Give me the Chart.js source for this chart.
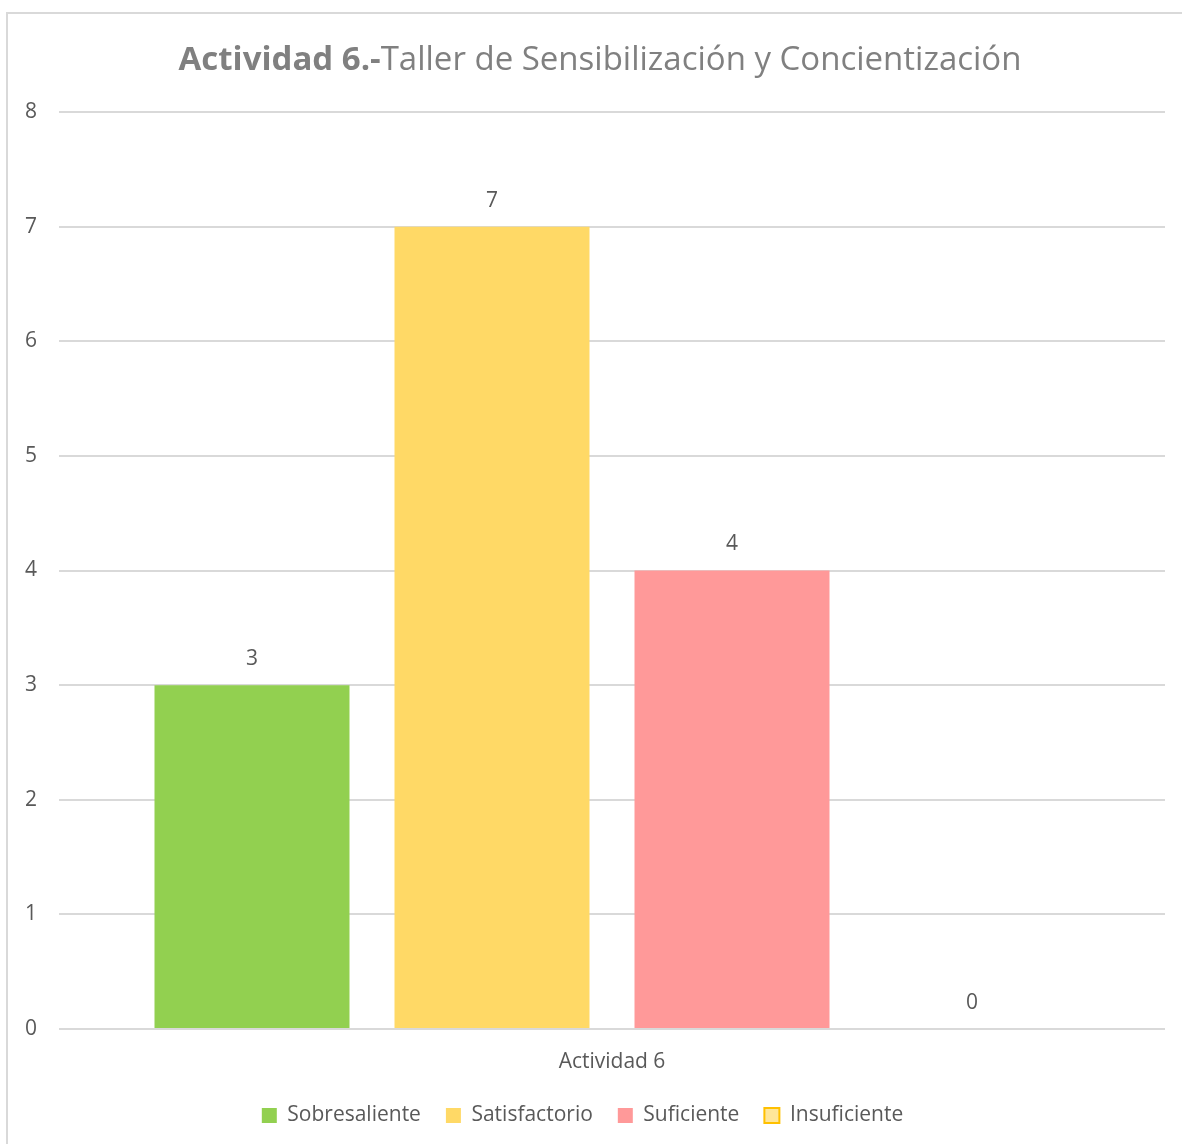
<!DOCTYPE html>
<html>
<head>
<meta charset="utf-8">
<script src="https://cdn.jsdelivr.net/npm/chart.js@4/dist/chart.umd.min.js"></script>
<style>
  html, body { margin: 0; padding: 0; background: #fff; }
  #wrap { width: 1182px; height: 1144px; position: relative; }
</style>
</head>
<body>
<div id="wrap"><canvas id="bar-chart"></canvas></div>
<script>
// chart data
const categories = ['Actividad 6'];
const seriesNames = ['Sobresaliente', 'Satisfactorio', 'Suficiente', 'Insuficiente'];
const seriesValues = [3, 7, 4, 0];
const yTicks = [0, 1, 2, 3, 4, 5, 6, 7, 8];
const titleBold = 'Actividad 6.-';
const titleRest = 'Taller de Sensibilización y Concientización';

const fillColors = ['#92D050', '#FFD966', '#FF9999', '#FFE699'];
const edgeColors = ['#92D050', '#FFD966', '#FF9999', '#FFC000'];
const FONT = "'Open Sans', 'Noto Sans', sans-serif";
const TITLE_SIZE = 33;
const TEXT_SIZE = 21;

// frame + title drawn by hand (title mixes bold and normal)
const framePlugin = {
  id: 'frame',
  beforeDraw: (chart) => {
    let ctx = chart.ctx;
    ctx.save();
    ctx.fillStyle = '#fff';
    ctx.fillRect(0, 0, chart.width, chart.height);
    ctx.strokeStyle = '#d9d9d9';
    ctx.lineWidth = 2;
    ctx.strokeRect(7, 13, chart.width + 20, chart.height + 20);
    ctx.restore();
  },
  afterDraw: (chart) => {
    let ctx = chart.ctx;
    ctx.save();
    ctx.fillStyle = '#808080';
    ctx.textBaseline = 'alphabetic';
    ctx.font = 'bold ' + TITLE_SIZE + 'px ' + FONT;
    let w1 = ctx.measureText(titleBold).width;
    ctx.font = TITLE_SIZE + 'px ' + FONT;
    let w2 = ctx.measureText(titleRest).width;
    let x = 600 - (w1 + w2) / 2;
    ctx.font = 'bold ' + TITLE_SIZE + 'px ' + FONT;
    ctx.fillText(titleBold, x, 70);
    ctx.font = TITLE_SIZE + 'px ' + FONT;
    ctx.fillText(titleRest, x + w1, 70);
    ctx.restore();
  }
};

// value labels above bars
const valueLabels = {
  id: 'valueLabels',
  afterDatasetsDraw: (chart) => {
    let ctx = chart.ctx;
    ctx.save();
    ctx.fillStyle = '#595959';
    ctx.font = TEXT_SIZE + 'px ' + FONT;
    ctx.textAlign = 'center';
    ctx.textBaseline = 'middle';
    chart.data.datasets.forEach((ds, i) => {
      let meta = chart.getDatasetMeta(i);
      meta.data.forEach((bar, j) => {
        ctx.fillText(String(ds.data[j]), bar.x, bar.y - 26);
      });
    });
    ctx.restore();
  }
};

new Chart(document.getElementById('bar-chart'), {
  type: 'bar',
  data: {
    labels: categories,
    datasets: seriesNames.map((name, i) => ({
      label: name,
      data: [seriesValues[i]],
      backgroundColor: fillColors[i],
      borderColor: edgeColors[i],
      borderWidth: i === 3 ? 2 : 0,
      barPercentage: 0.8125,
      categoryPercentage: 0.868
    }))
  },
  options: {
    responsive: true,
    maintainAspectRatio: false,
    animation: false,
    layout: { padding: { top: 112, right: 17, left: 0, bottom: 8 } },
    plugins: {
      title: { display: false },
      tooltip: { enabled: false },
      legend: {
        position: 'bottom',
        labels: {
          color: '#595959',
          font: { family: FONT, size: TEXT_SIZE },
          boxWidth: 15,
          boxHeight: 15,
          padding: 25
        }
      }
    },
    scales: {
      x: {
        afterFit: (scale) => { scale.height = 51; },
        grid: { display: false, drawTicks: false },
        border: { display: false },
        ticks: { color: '#595959', font: { family: FONT, size: TEXT_SIZE }, padding: 20 }
      },
      y: {
        min: 0,
        max: 8,
        afterFit: (scale) => { scale.width = 59; },
        afterBuildTicks: (scale) => { scale.ticks = yTicks.map(v => ({ value: v })); },
        grid: { color: '#d9d9d9', lineWidth: 2, drawTicks: false },
        border: { display: false },
        ticks: { color: '#595959', font: { family: FONT, size: TEXT_SIZE }, padding: 22 }
      }
    }
  },
  plugins: [framePlugin, valueLabels]
});
</script>
</body>
</html>
